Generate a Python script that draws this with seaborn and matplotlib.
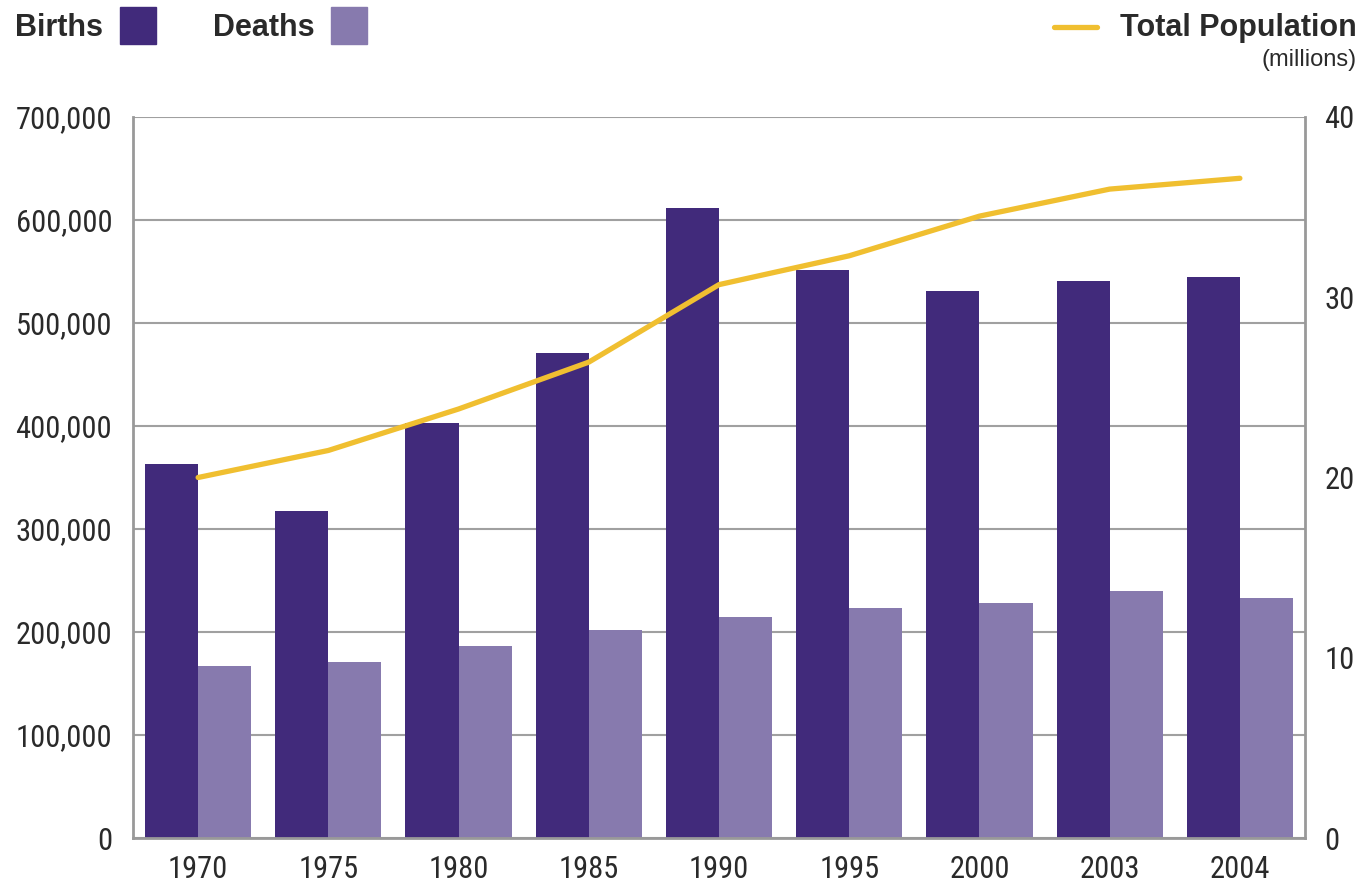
import numpy as np
import pandas as pd
import seaborn as sns
import matplotlib.pyplot as plt
from matplotlib.patches import Rectangle
from matplotlib.lines import Line2D

# Data
years = ['1970', '1975', '1980', '1985', '1990', '1995', '2000', '2003', '2004']
births = [363000, 317500, 403000, 471000, 611500, 551500, 531000, 541000, 544500]
deaths = [167000, 171000, 186500, 202000, 214500, 223500, 228000, 240000, 233000]
population = [20.0, 21.5, 23.8, 26.4, 30.7, 32.3, 34.5, 36.0, 36.6]  # millions

BIRTH_COL = '#412a7b'
DEATH_COL = '#877aae'
LINE_COL = '#f0bf30'
GRID_COL = '#a0a0a0'
TEXT_COL = '#2a2a2a'

sns.set_style('white')
plt.rcParams['font.family'] = ['Roboto Condensed', 'DejaVu Sans']

df = pd.DataFrame({
    'Year': years * 2,
    'Count': births + deaths,
    'Type': ['Births'] * len(years) + ['Deaths'] * len(years),
})
pop_df = pd.DataFrame({'Year': years, 'Population': population})

fig = plt.figure(figsize=(13.61, 8.83), dpi=100)
ax = fig.add_axes([133 / 1361, 45 / 883, (1305 - 133) / 1361, (838 - 117) / 883])

sns.barplot(data=df, x='Year', y='Count', hue='Type', ax=ax,
            palette={'Births': BIRTH_COL, 'Deaths': DEATH_COL},
            saturation=1, width=0.815, legend=False, errorbar=None, linewidth=0)

ax.set_ylim(0, 700000)
ax.set_xlim(-0.5, len(years) - 0.5)
ax.set_yticks(np.arange(0, 700001, 100000))
ax.set_yticklabels([f'{v:,}' for v in range(0, 700001, 100000)])
ax.set_xlabel('')
ax.set_ylabel('')
ax.set_axisbelow(True)
ax.yaxis.grid(True, color=GRID_COL, lw=1.5)
ax.tick_params(axis='y', length=0, pad=15, labelsize=22, labelcolor=TEXT_COL)
ax.tick_params(axis='x', length=0, pad=12, labelsize=22, labelcolor=TEXT_COL)
for side in ['left', 'bottom']:
    ax.spines[side].set_color('#999999')
    ax.spines[side].set_linewidth(2)
ax.spines['top'].set_visible(False)
ax.spines['right'].set_visible(False)

# population line on the right axis
ax2 = ax.twinx()
sns.lineplot(data=pop_df, x=np.arange(len(years)), y='Population', ax=ax2,
             color=LINE_COL, lw=3.8, solid_capstyle='round')
ax2.set_ylim(0, 40)
ax2.set_yticks([0, 10, 20, 30, 40])
ax2.set_ylabel('')
ax2.tick_params(axis='y', length=0, pad=14, labelsize=22, labelcolor=TEXT_COL)
ax2.spines['right'].set_color('#999999')
ax2.spines['right'].set_linewidth(2)
for side in ['top', 'left', 'bottom']:
    ax2.spines[side].set_visible(False)

# legend drawn along the top
bold = dict(family=['Liberation Sans', 'DejaVu Sans'], weight='bold', size=22,
            color=TEXT_COL, va='baseline')
ytxt = 1 - 36 / 883
fig.text(15 / 1361, ytxt, 'Births', ha='left', **bold)
fig.patches.append(Rectangle((120 / 1361, 1 - 44 / 883), 36 / 1361, 37 / 883,
                             color=BIRTH_COL, transform=fig.transFigure, figure=fig))
fig.text(213 / 1361, ytxt, 'Deaths', ha='left', **bold)
fig.patches.append(Rectangle((331 / 1361, 1 - 44 / 883), 36 / 1361, 37 / 883,
                             color=DEATH_COL, transform=fig.transFigure, figure=fig))
fig.lines.append(Line2D([1054 / 1361, 1097 / 1361], [1 - 27 / 883] * 2, color=LINE_COL,
                        lw=3.8, solid_capstyle='round', transform=fig.transFigure, figure=fig))
fig.text(1357 / 1361, ytxt, 'Total Population', ha='right', **bold)
fig.text(1357 / 1361, 1 - 66 / 883, '(millions)', ha='right', va='baseline',
         family=['Liberation Sans', 'DejaVu Sans'], size=17, color=TEXT_COL)

fig.savefig('out.png', dpi=100, facecolor='white')
